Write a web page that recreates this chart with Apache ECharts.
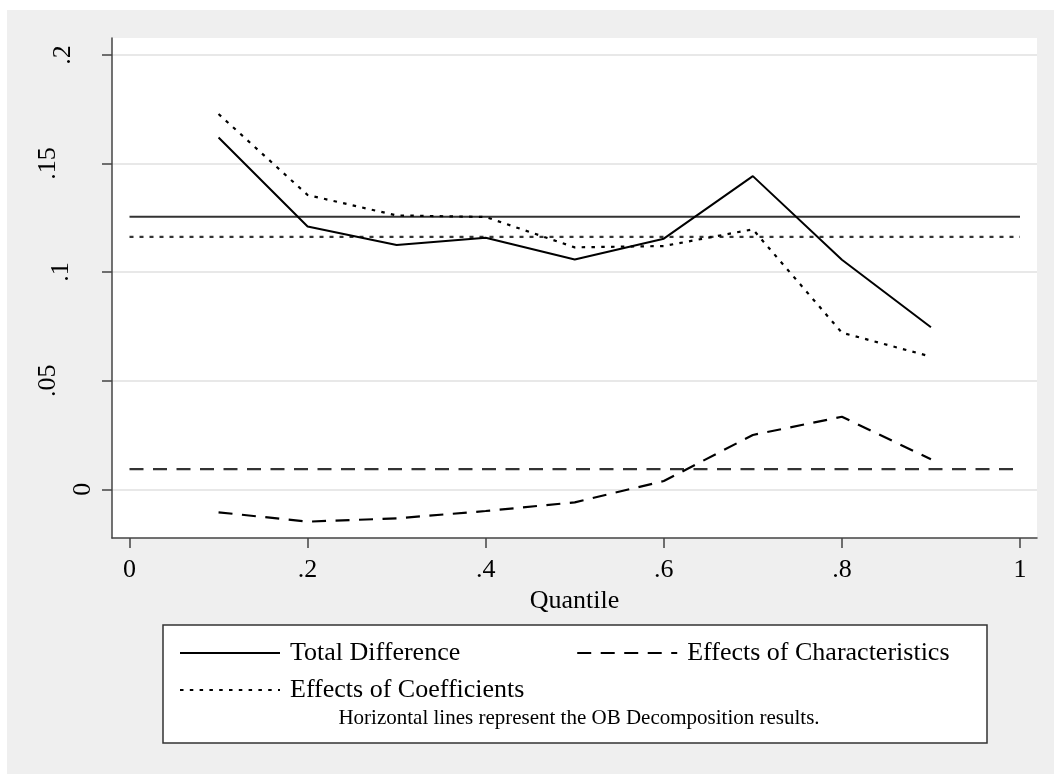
<!DOCTYPE html>
<html>
<head>
<meta charset="utf-8">
<title>Quantile decomposition</title>
<script src="https://cdn.jsdelivr.net/npm/echarts@6/dist/echarts.min.js"></script>
<style>
  html, body { margin: 0; padding: 0; background: #fff; }
  #wrap { position: relative; width: 1054px; height: 774px; background: #fff; overflow: hidden; }
  #panel { position: absolute; left: 7px; top: 10px; width: 1047px; height: 764px; background: #efefef; }
  #chart { position: absolute; left: 0; top: 0; width: 1054px; height: 774px; }
</style>
</head>
<body>
<div id="wrap">
  <div id="panel"></div>
  <div id="chart"></div>
</div>
<script>
// Quantiles at which the decomposition was estimated
const quantiles = [0.1, 0.2, 0.3, 0.4, 0.5, 0.6, 0.7, 0.8, 0.9];

// Quantile decomposition components
const totalDifference = [0.1620, 0.1210, 0.1125, 0.1158, 0.1058, 0.1154, 0.1442, 0.1057, 0.0746];
const characteristics = [-0.0106, -0.0149, -0.0134, -0.0100, -0.0060, 0.0038, 0.0250, 0.0334, 0.0138];
const coefficients    = [0.1728, 0.1355, 0.1261, 0.1254, 0.1114, 0.1120, 0.1197, 0.0721, 0.0611];

// Oaxaca-Blinder (mean) decomposition results, drawn as horizontal lines
const obTotal = 0.1255;
const obCharacteristics = 0.0093;
const obCoefficients = 0.1162;

// Axis ticks
const xTicks = [0, 0.2, 0.4, 0.6, 0.8, 1];
const yTicks = [0, 0.05, 0.1, 0.15, 0.2];

const seriesNames = ['Total Difference', 'Effects of Characteristics', 'Effects of Coefficients'];
const noteText = 'Horizontal lines represent the OB Decomposition results.';
const xTitle = 'Quantile';

const FONT = "'Liberation Serif', 'Times New Roman', serif";

// Stata-style numbers: ".2" instead of "0.2"
function stataNum(v) {
  const s = String(+v.toFixed(4));
  if (s.startsWith('0.')) return s.slice(1);
  if (s.startsWith('-0.')) return '-' + s.slice(2);
  return s;
}

const pairs = (xs, ys) => xs.map((x, i) => [x, ys[i]]);
const hline = (v) => [[xTicks[0], v], [xTicks[xTicks.length - 1], v]];

const solid = { type: 'solid', width: 2, color: '#000' };
const dashed = { type: [14, 9.5], width: 2.2, color: '#000' };
const dotted = { type: [3.5, 6.3], width: 2.2, color: '#000' };

// per-label shift of the rotated y labels (pushes a label away from the axis)
const yShift = { '0': 0, '.05': 35, '.1': 22, '.15': 35, '.2': 20 };
const yRich = {};
Object.keys(yShift).forEach((k, i) => {
  yRich['y' + i] = { fontSize: 26, fontFamily: FONT, color: '#000', padding: [0, 0, yShift[k], 0] };
});
const yKeyIndex = {};
Object.keys(yShift).forEach((k, i) => { yKeyIndex[k] = i; });

const legendText = { fontSize: 26, fontFamily: FONT, color: '#000', lineHeight: 30, padding: [0, 0, 0, 5] };

const chart = echarts.init(document.getElementById('chart'), null, { renderer: 'canvas' });

const option = {
  animation: false,
  backgroundColor: 'transparent',
  textStyle: { fontFamily: FONT },
  grid: {
    left: 112, right: 17, top: 38, bottom: 236,
    show: true, backgroundColor: '#ffffff', borderWidth: 0,
    outerBoundsMode: 'none'
  },
  xAxis: {
    type: 'value',
    min: -0.01965, max: 1.0191,
    name: xTitle,
    nameLocation: 'middle',
    nameGap: 42,
    nameTextStyle: { fontSize: 26, fontFamily: FONT, color: '#000' },
    axisLine: { onZero: false, lineStyle: { color: '#444', width: 1.5 } },
    axisTick: { customValues: xTicks, length: 10, lineStyle: { color: '#444', width: 1.5 } },
    axisLabel: {
      customValues: xTicks, margin: 19,
      fontSize: 26, fontFamily: FONT, color: '#000',
      formatter: (v) => stataNum(v)
    },
    splitLine: { show: false }
  },
  yAxis: {
    type: 'value',
    min: -0.02243, max: 0.2078,
    axisLine: { show: true, onZero: false, lineStyle: { color: '#444', width: 1.5 } },
    axisTick: { show: true, customValues: yTicks, length: 10, lineStyle: { color: '#444', width: 1.5 } },
    axisLabel: {
      customValues: yTicks, rotate: 90, margin: 16,
      fontSize: 26, fontFamily: FONT, color: '#000',
      formatter: (v) => { const s = stataNum(v); return '{y' + yKeyIndex[s] + '|' + s + '}'; },
      rich: yRich
    },
    splitLine: { show: true, lineStyle: { color: '#e8e8e8', width: 2 } }
  },
  legend: [
    {
      data: [seriesNames[0], seriesNames[1]],
      left: 174, top: 633,
      itemWidth: 100, itemHeight: 20, itemGap: 116,
      itemStyle: { opacity: 0 },
      textStyle: legendText,
      selectedMode: false
    },
    {
      data: [seriesNames[2]],
      left: 174, top: 670,
      itemWidth: 100, itemHeight: 20,
      itemStyle: { opacity: 0 },
      textStyle: legendText,
      selectedMode: false
    }
  ],
  graphic: [
    {
      type: 'rect', z: 1,
      shape: { x: 163, y: 625, width: 824, height: 118 },
      style: { fill: '#fff', stroke: '#333', lineWidth: 1.5 }
    },
    {
      type: 'text', z: 2,
      x: 579, y: 718,
      style: {
        text: noteText, fontSize: 21, fontFamily: FONT, fill: '#000',
        align: 'center', verticalAlign: 'middle'
      }
    }
  ],
  series: [
    {
      name: seriesNames[0], type: 'line', data: pairs(quantiles, totalDifference),
      symbol: 'none', lineStyle: solid, z: 5
    },
    {
      name: seriesNames[1], type: 'line', data: pairs(quantiles, characteristics),
      symbol: 'none', lineStyle: dashed, z: 5
    },
    {
      name: seriesNames[2], type: 'line', data: pairs(quantiles, coefficients),
      symbol: 'none', lineStyle: dotted, z: 5
    },
    {
      name: 'OB total', type: 'line', data: hline(obTotal),
      symbol: 'none', lineStyle: { type: 'solid', width: 2.2, color: '#333' }, z: 4
    },
    {
      name: 'OB characteristics', type: 'line', data: hline(obCharacteristics),
      symbol: 'none', lineStyle: { type: [14, 9.5], width: 2.4, color: '#333' }, z: 4
    },
    {
      name: 'OB coefficients', type: 'line', data: hline(obCoefficients),
      symbol: 'none', lineStyle: { type: [4, 6], width: 2.2, color: '#333' }, z: 4
    }
  ]
};

chart.setOption(option);
</script>
</body>
</html>
